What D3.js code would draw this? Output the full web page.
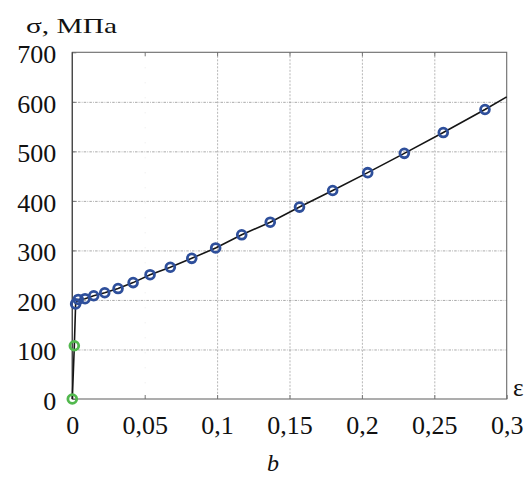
<!DOCTYPE html>
<html>
<head>
<meta charset="utf-8">
<script src="https://cdn.jsdelivr.net/npm/d3@7"></script>
<style>
  html, body { margin: 0; padding: 0; background: #fff; }
  svg { display: block; }
  svg text { font-family: "Times New Roman", "Liberation Serif", Tinos, Times, serif !important; fill: #111; }
</style>
</head>
<body>
<svg id="chart" width="531" height="478"></svg>
<script>
// Stress–strain data: elastic segment (green markers)
const elasticStrain = [0, 0.0014];
const elasticStress = [0, 107.5];

// Plastic segment (blue markers)
const plasticStrain = [0.0023, 0.0041, 0.0088, 0.0148, 0.0224, 0.0316, 0.0420, 0.0537,
  0.0677, 0.0825, 0.0990, 0.1170, 0.1367, 0.1569, 0.1798, 0.2040, 0.2293, 0.2562, 0.2850];
const plasticStress = [192, 201, 202.5, 208.5, 214.5, 223, 235, 251,
  266, 284, 305, 331.5, 357, 387.5, 421, 457, 496, 538, 584.5];

// Curve continues to the right edge of the plot
const curveEndStrain = [0.3];
const curveEndStress = [610];

// Axis ticks
const xTicks = [0, 0.05, 0.1, 0.15, 0.2, 0.25, 0.3];
const xTickLabels = ["0", "0,05", "0,1", "0,15", "0,2", "0,25", "0,3"];
const yTicks = [0, 100, 200, 300, 400, 500, 600, 700];
const yTickLabels = ["0", "100", "200", "300", "400", "500", "600", "700"];

const FONT = '"Times New Roman", "Liberation Serif", Tinos, Times, serif';

const svg = d3.select("#chart");
const x = d3.scaleLinear().domain([0, 0.3]).range([72.3, 506.7]);
const y = d3.scaleLinear().domain([0, 700]).range([399, 52.3]);

const [x0, x1] = x.range();
const [yb, yt] = y.range();

// Grid
const grid = svg.append("g").attr("class", "grid");
grid.selectAll("line.h").data(yTicks.slice(1, -1)).join("line")
  .attr("x1", x0).attr("x2", x1)
  .attr("y1", d => y(d) + 0.5).attr("y2", d => y(d) + 0.5)
  .attr("stroke", "#a0a0a0").attr("stroke-width", 0.9)
  .attr("stroke-dasharray", "2.5,1.2,0.8,1.2");
grid.selectAll("line.v").data(xTicks.slice(1, -1)).join("line")
  .attr("x1", d => x(d) + 0.5).attr("x2", d => x(d) + 0.5)
  .attr("y1", yt).attr("y2", yb)
  .attr("stroke", "#a0a0a0").attr("stroke-width", 0.9)
  .attr("stroke-opacity", (d, i) => i === 0 ? 0.25 : 0.85)
  .attr("stroke-dasharray", (d, i) => i === 0 ? "1,14" : "2,1.5");

// Axes with inward ticks
const xAxis = d3.axisBottom(x).tickValues(xTicks)
  .tickFormat((d, i) => xTickLabels[i]).tickSizeInner(-4).tickSizeOuter(0).tickPadding(16.5);
const gx = svg.append("g").attr("transform", `translate(0,${yb})`).call(xAxis);
const yAxis = d3.axisLeft(y).tickValues(yTicks)
  .tickFormat((d, i) => yTickLabels[i]).tickSizeInner(-4).tickSizeOuter(0).tickPadding(16);
const gy = svg.append("g").attr("transform", `translate(${x0},0)`).call(yAxis);

[gx, gy].forEach(g => {
  g.attr("font-family", FONT).attr("font-size", 26);
  g.select(".domain").remove();
  g.selectAll(".tick line").attr("stroke", "#777");
  g.selectAll(".tick text").attr("font-size", 26).attr("font-family", FONT).attr("fill", "#111");
});
gy.selectAll(".tick text").attr("dy", "0.4em");

// Top ticks
svg.append("g").selectAll("line").data(xTicks.slice(1, -1)).join("line")
  .attr("x1", d => x(d) + 0.5).attr("x2", d => x(d) + 0.5)
  .attr("y1", yt).attr("y2", yt + 4).attr("stroke", "#777");

// Frame
svg.append("rect")
  .attr("x", x0).attr("y", yt).attr("width", x1 - x0).attr("height", yb - yt)
  .attr("fill", "none").attr("stroke", "#6a6a6a").attr("stroke-width", 1.1);
svg.append("line").attr("x1", x0).attr("x2", x0).attr("y1", yt).attr("y2", yb)
  .attr("stroke", "#444").attr("stroke-width", 1.2);

// Curve through all points
const curveStrain = elasticStrain.concat(plasticStrain, curveEndStrain);
const curveStress = elasticStress.concat(plasticStress, curveEndStress);
const curve = curveStrain.map((e, i) => [e, curveStress[i]]);
svg.append("path").datum(curve)
  .attr("d", d3.line().x(d => x(d[0])).y(d => y(d[1])))
  .attr("fill", "none").attr("stroke", "#151515").attr("stroke-width", 1.6);

// Markers
const drawMarkers = (strain, stress, color) => {
  svg.append("g").selectAll("circle").data(strain.map((e, i) => [e, stress[i]])).join("circle")
    .attr("cx", d => x(d[0])).attr("cy", d => y(d[1])).attr("r", 4.4)
    .attr("fill", "none").attr("stroke", color).attr("stroke-width", 2.8);
};
drawMarkers(elasticStrain, elasticStress, "#52b84e");
drawMarkers(plasticStrain, plasticStress, "#2e4f9b");

// Labels
svg.append("text").attr("x", 26).attr("y", 33.3).attr("font-family", FONT)
  .attr("font-size", 21).attr("textLength", 91).attr("lengthAdjust", "spacingAndGlyphs")
  .text("σ, МПа");
svg.append("text").attr("x", 513).attr("y", 395.5).attr("font-family", FONT)
  .attr("font-size", 25).text("ε");
svg.append("text").attr("x", 273).attr("y", 471).attr("text-anchor", "middle").attr("font-family", FONT)
  .attr("font-size", 24).attr("font-style", "italic").text("b");
</script>
</body>
</html>
